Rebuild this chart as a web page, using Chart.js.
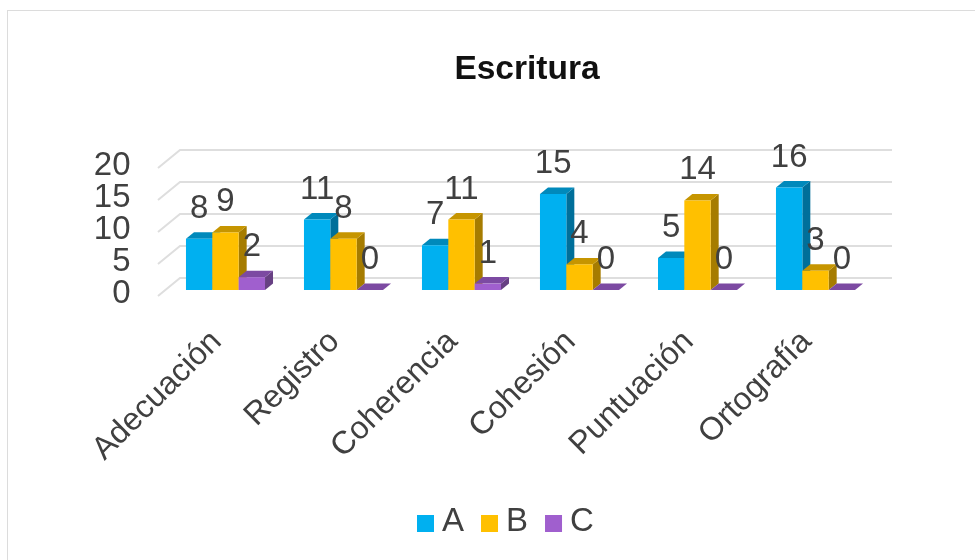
<!DOCTYPE html>
<html><head><meta charset="utf-8">
<script src="https://cdn.jsdelivr.net/npm/chart.js@4/dist/chart.umd.min.js"></script>
<style>
html,body{margin:0;padding:0;background:#fff;overflow:hidden}
#frame{position:absolute;left:7px;top:10px;width:980px;height:560px;border:1px solid #dcdcdc;box-sizing:border-box}
#wrap{position:absolute;left:0;top:0;width:975px;height:560px;filter:blur(0.5px)}
</style></head><body>
<div id="frame"></div>
<div id="wrap"><canvas id="c" width="975" height="560"></canvas></div>
<script>
const categories = ["Adecuación","Registro","Coherencia","Cohesión","Puntuación","Ortografía"];
const seriesA = [8,11,7,15,5,16];
const seriesB = [9,8,11,4,14,3];
const seriesC = [2,0,1,0,0,0];
const yTicks = [0,5,10,15,20];
const chartTitle = "Escritura";

const FONT = "'Liberation Sans', Arial, sans-serif";
const TEXT = "#404040";
const faces = {
  A:{front:"#00b0f0",top:"#0089bb",side:"#006f9a"},
  B:{front:"#ffc000",top:"#c69500",side:"#a67c00"},
  C:{front:"#a05fce",top:"#7c4aa2",side:"#674083"}
};
const DX = 8, DY = 6.5;

function poly(ctx, pts, fill){
  ctx.fillStyle = fill;
  ctx.beginPath();
  pts.forEach((p,i)=> i ? ctx.lineTo(p[0],p[1]) : ctx.moveTo(p[0],p[1]));
  ctx.closePath();
  ctx.fill();
}

const threeD = {
  id:"threeD",
  afterLayout(chart){
    chart.titleBlock.left = 0;
    chart.titleBlock.right = 1054;
  },
  beforeDatasetsDraw(chart){
    const ctx = chart.ctx, y = chart.scales.y;
    const area = chart.chartArea;
    ctx.save();
    ctx.strokeStyle = "#dedede";
    ctx.lineWidth = 2;
    y.ticks.forEach(t=>{
      const p = y.getPixelForValue(t.value);
      ctx.beginPath();
      ctx.moveTo(area.left-8.5, p+6);
      ctx.lineTo(area.left+13.5, p-12);
      ctx.lineTo(area.right+17.5, p-12);
      ctx.stroke();
    });
    ctx.restore();
    chart.data.datasets.forEach((ds,i)=>{
      const meta = chart.getDatasetMeta(i);
      const f = faces[ds.label];
      meta.data.forEach(el=>{
        const p = el.getProps(["x","y","base","width"], true);
        const l = p.x-p.width/2, r = p.x+p.width/2;
        poly(ctx,[[r,p.y],[r+DX,p.y-DY],[r+DX,p.base-DY],[r,p.base]],f.side);
        poly(ctx,[[l,p.y],[l+DX,p.y-DY],[r+DX,p.y-DY],[r,p.y]],f.top);
        el.draw(ctx, area);
      });
    });
    ctx.save();
    ctx.font = "33px "+FONT;
    ctx.fillStyle = TEXT;
    ctx.textAlign = "center";
    ctx.textBaseline = "middle";
    chart.data.datasets.forEach((ds,i)=>{
      chart.getDatasetMeta(i).data.forEach((el,j)=>{
        ctx.fillText(String(ds.data[j]), el.x, el.y-30);
      });
    });
    ctx.restore();
    ctx.save();
    ctx.font = "33px "+FONT;
    ctx.textBaseline = "alphabetic";
    let x = 417;
    chart.data.datasets.forEach(ds=>{
      ctx.fillStyle = ds.backgroundColor;
      ctx.fillRect(x,515,17,17);
      ctx.fillStyle = TEXT;
      ctx.fillText(ds.label,x+25,531);
      x += 25+ctx.measureText(ds.label).width+17;
    });
    ctx.restore();
    return false;
  }
};

new Chart(document.getElementById("c"),{
  type:"bar",
  data:{
    labels:categories,
    datasets:[
      {label:"A",data:seriesA,backgroundColor:faces.A.front},
      {label:"B",data:seriesB,backgroundColor:faces.B.front},
      {label:"C",data:seriesC,backgroundColor:faces.C.front}
    ]
  },
  plugins:[threeD],
  options:{
    responsive:false,
    animation:false,
    layout:{padding:{left:0,right:100.5,top:0,bottom:0}},
    datasets:{bar:{categoryPercentage:0.67,barPercentage:1,borderWidth:0}},
    plugins:{
      legend:{display:false},
      tooltip:{enabled:false},
      title:{
        display:true,
        text:chartTitle,
        color:"#111",
        font:{family:FONT,size:33.5,weight:"bold",lineHeight:1.2},
        padding:{top:50,bottom:71.8}
      }
    },
    scales:{
      x:{
        grid:{display:false,drawTicks:false},
        border:{display:false},
        afterFit(s){s.height=270;},
        ticks:{
          color:TEXT,autoSkip:false,minRotation:45,maxRotation:45,padding:33,labelOffset:-9,
          font:{family:FONT,size:32}
        }
      },
      y:{
        min:0,max:20,
        afterBuildTicks(s){s.ticks=yTicks.map(v=>({value:v}));},
        afterFit(s){s.width=166.5;},
        grid:{display:false,drawTicks:false},
        border:{display:false},
        ticks:{
          color:TEXT,padding:36,labelOffset:4,autoSkip:false,
          font:{family:FONT,size:33}
        }
      }
    }
  }
});
</script>
</body></html>
